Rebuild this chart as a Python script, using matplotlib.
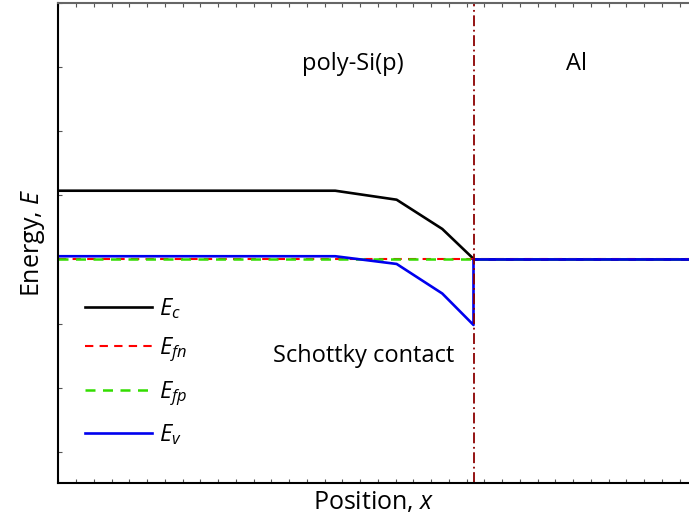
import matplotlib
matplotlib.use("Agg")
import matplotlib.pyplot as plt
from matplotlib.ticker import MultipleLocator

plt.rcParams["font.family"] = ["Open Sans", "DejaVu Sans"]
plt.rcParams["mathtext.fontset"] = "custom"
plt.rcParams["mathtext.rm"] = "Open Sans"
plt.rcParams["mathtext.it"] = "Open Sans:italic"

# band diagram (position in tick units, energy in tick units)
x_si = [0.0, 15.6, 19.06, 21.63, 23.39]
ec_si = [4.07, 4.07, 3.93, 3.475, 3.01]
ev_si = [3.05, 3.05, 2.93, 2.47, 1.98]
ef_si = [3.0, 3.0, 3.0, 3.0, 3.0]

x_al = [23.39, 35.6]
e_al = [3.0, 3.0]

x_interface = 23.39

fig = plt.figure(figsize=(6.89, 5.21), dpi=100)
ax = fig.add_axes([58.3 / 689, 38 / 521, 1 - 58.3 / 689, (483 - 2.5) / 521])

ax.plot(x_si + x_al, ec_si + e_al, color="black", lw=1.9, label="$E_c$")
ax.plot(x_si + x_al, ef_si + e_al, color="red", lw=1.5, ls=(0, (4, 3)), label="$E_{fn}$")
ax.plot(x_si + x_al, ef_si + e_al, color="#33dd00", lw=1.8, ls=(0, (4, 3)), label="$E_{fp}$")
ax.plot(x_si + [x_interface] + x_al[1:], ev_si + e_al, color="#0000ee", lw=1.9, label="$E_v$")
ax.axvline(x_interface, color="#8b0000", lw=1.3, ls=(0, (6, 2, 1, 2)))

ax.set_xlim(0, 35.53)
ax.set_ylim(-0.48, 7.0)
ax.xaxis.set_major_locator(MultipleLocator(1))
ax.yaxis.set_major_locator(MultipleLocator(1))
ax.tick_params(axis="x", which="both", top=True, bottom=True, direction="in",
               length=3, color="#555555", labelbottom=False)
ax.tick_params(axis="y", which="both", left=True, direction="in", length=3,
               color="#555555", labelleft=False)
ax.spines["right"].set_visible(False)
ax.spines["top"].set_color("#666666")
ax.spines["top"].set_linewidth(1.5)
ax.spines["left"].set_linewidth(1.5)
ax.spines["bottom"].set_linewidth(1.5)

ax.set_xlabel("Position, $x$", fontsize=18, labelpad=5)
ax.set_ylabel("Energy, $E$", fontsize=18, labelpad=8)

ax.text(16.6, 6.05, "poly-Si(p)", fontsize=17, ha="center", va="center")
ax.text(29.2, 6.05, "Al", fontsize=17, ha="center", va="center")
ax.text(17.2, 1.50, "Schottky contact", fontsize=17, ha="center", va="center")

ax.legend(loc="upper left", bbox_to_anchor=(0.008, 0.433), frameon=False,
          fontsize=17, handlelength=2.85, handletextpad=0.3, labelspacing=0.62)

fig.savefig("out.png", dpi=100)
